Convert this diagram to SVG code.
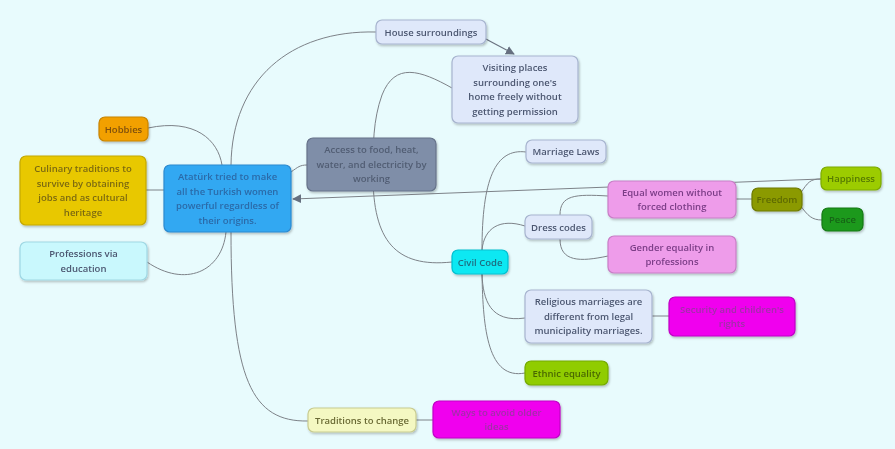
<svg xmlns="http://www.w3.org/2000/svg" width="895" height="449" viewBox="0 0 895 449">
<defs>
<style>
.bg{fill:#e8fbfd}
.c{fill:none;stroke:#7d8288;stroke-width:1}
.n rect{stroke-width:1.2}
text{font-family:"Open Sans","DejaVu Sans",sans-serif;font-weight:600;font-size:9.5px;text-anchor:middle}
.lb rect{fill:#dfe8fa;stroke:#a7b4cf}
.lb text{fill:#4b5670}
.pk rect{fill:#ee9cea;stroke:#c87ec6}
.pk text{fill:#7a3c86}
.mg rect{fill:#f000ee;stroke:#c000c6}
.mg text{fill:#a030a8}
</style>
<marker id="ah" viewBox="0 0 10 10" refX="9" refY="5" markerWidth="9" markerHeight="9" orient="auto" markerUnits="userSpaceOnUse">
<path d="M0,0 L10,5 L0,10 z" fill="#667080"/>
</marker>
<filter id="sh" x="-10%" y="-10%" width="120%" height="130%">
<feDropShadow dx="1" dy="1.5" stdDeviation="1" flood-color="#000" flood-opacity="0.25"/>
</filter>
</defs>
<rect class="bg" x="0" y="0" width="895" height="449"/>

<g id="connectors">
<path class="c" d="M376,32 C290,30 232,80 231,165"/>
<path class="c" d="M148,128 C195,118 218,140 222,165"/>
<path class="c" d="M146,190 L164,190"/>
<path class="c" d="M147,262 C185,288 222,272 226,232"/>
<path class="c" d="M231,232 C231,380 252,422 308,421"/>
<path class="c" d="M291,172 C298,167 300,165 307,165"/>
<path class="c" d="M452,88 C420,70 395,62 382,95 C373,120 373,145 373,175 C373,240 395,268 452,262"/>
<path class="c" d="M484,38 L514,54" marker-end="url(#ah)" style="stroke:#6a7280;stroke-width:1.3"/>
<path class="c" d="M821,179 L293,199" marker-end="url(#ah)"/>
<path class="c" d="M482,250 C482,180 495,148 526,152"/>
<path class="c" d="M482,250 C484,228 500,218 525,226"/>
<path class="c" d="M482,274 C483,300 490,323 525,318"/>
<path class="c" d="M482,274 C483,330 488,380 525,373"/>
<path class="c" d="M560,215 C560,195 575,194 608,196"/>
<path class="c" d="M560,239 C560,262 580,262 608,256"/>
<path class="c" d="M736,199 L752,199"/>
<path class="c" d="M800,194 C808,182 810,179 821,179"/>
<path class="c" d="M800,205 C808,216 812,220 822,220"/>
<path class="c" d="M652,316 L669,316"/>
<path class="c" d="M416,420 L433,420"/>
</g>

<g id="house" class="n lb" filter="url(#sh)"><rect x="376" y="20" width="110" height="24" rx="6"/><text x="431" y="35.5">House surroundings</text></g>
<g id="visiting" class="n lb" filter="url(#sh)"><rect x="452" y="56" width="126" height="67" rx="6"/>
<text x="515" y="71">Visiting places</text><text x="515" y="85.5">surrounding one's</text><text x="515" y="100">home freely without</text><text x="515" y="114.5">getting permission</text></g>

<g id="hobbies" class="n" filter="url(#sh)"><rect x="99" y="117" width="49" height="24" rx="6" fill="#f2a000" stroke="#c88400"/><text x="123.5" y="132.5" fill="#80500a">Hobbies</text></g>

<g id="access" class="n" filter="url(#sh)"><rect x="307" y="138" width="129" height="53" rx="6" fill="#7f8ea8" stroke="#66728a"/>
<text x="371.5" y="153" fill="#515d73">Access to food, heat,</text><text x="371.5" y="167.5" fill="#515d73">water, and electricity by</text><text x="371.5" y="182" fill="#515d73">working</text></g>

<g id="culinary" class="n" filter="url(#sh)"><rect x="20" y="156" width="126" height="69" rx="6" fill="#e8c800" stroke="#c4a800"/>
<text x="83" y="172" fill="#7c6a10">Culinary traditions to</text><text x="83" y="186.5" fill="#7c6a10">survive by obtaining</text><text x="83" y="201" fill="#7c6a10">jobs and as cultural</text><text x="83" y="215.5" fill="#7c6a10">heritage</text></g>

<g id="ataturk" class="n" filter="url(#sh)"><rect x="164" y="165" width="127" height="67" rx="6" fill="#33a8f2" stroke="#2a8ad0"/>
<text x="227.5" y="180" fill="#2b6aa8">Atatürk tried to make</text><text x="227.5" y="194.5" fill="#2b6aa8">all the Turkish women</text><text x="227.5" y="209" fill="#2b6aa8">powerful regardless of</text><text x="227.5" y="223.5" fill="#2b6aa8">their origins.</text></g>

<g id="professions" class="n" filter="url(#sh)"><rect x="20" y="242" width="127" height="38" rx="6" fill="#c9f8fd" stroke="#9fd8e4"/>
<text x="83.5" y="257" fill="#4b5670">Professions via</text><text x="83.5" y="271.5" fill="#4b5670">education</text></g>

<g id="marriage" class="n lb" filter="url(#sh)"><rect x="526" y="140" width="80" height="23" rx="6"/><text x="566" y="155">Marriage Laws</text></g>

<g id="equal" class="n pk" filter="url(#sh)"><rect x="608" y="181" width="128" height="37" rx="6"/>
<text x="672" y="196">Equal women without</text><text x="672" y="210">forced clothing</text></g>

<g id="freedom" class="n" filter="url(#sh)"><rect x="752" y="188" width="50" height="23" rx="6" fill="#8b9a00" stroke="#6e7a00"/><text x="777" y="203" fill="#5e6a00">Freedom</text></g>

<g id="happiness" class="n" filter="url(#sh)"><rect x="821" y="167" width="60" height="23" rx="6" fill="#9ccc00" stroke="#7caa00"/><text x="851" y="182" fill="#567a00">Happiness</text></g>

<g id="peace" class="n" filter="url(#sh)"><rect x="822" y="208" width="41" height="23" rx="6" fill="#1f991f" stroke="#157a15"/><text x="842.5" y="223" fill="#146414">Peace</text></g>

<g id="dress" class="n lb" filter="url(#sh)"><rect x="525" y="215" width="67" height="24" rx="6"/><text x="558.5" y="230.5">Dress codes</text></g>

<g id="gender" class="n pk" filter="url(#sh)"><rect x="608" y="236" width="128" height="37" rx="6"/>
<text x="672" y="251">Gender equality in</text><text x="672" y="265">professions</text></g>

<g id="civil" class="n" filter="url(#sh)"><rect x="452" y="250" width="56" height="24" rx="6" fill="#10e8f2" stroke="#00c0d0"/><text x="480" y="265.5" fill="#1e6c80">Civil Code</text></g>

<g id="religious" class="n lb" filter="url(#sh)"><rect x="525" y="290" width="127" height="53" rx="6"/>
<text x="588.5" y="305">Religious marriages are</text><text x="588.5" y="319.5">different from legal</text><text x="588.5" y="334">municipality marriages.</text></g>

<g id="security" class="n mg" filter="url(#sh)"><rect x="669" y="297" width="126" height="39" rx="6"/>
<text x="732" y="312.5">Security and children's</text><text x="732" y="326.5">rights</text></g>

<g id="ethnic" class="n" filter="url(#sh)"><rect x="525" y="361" width="83" height="24" rx="6" fill="#90cc00" stroke="#74aa00"/><text x="566.5" y="376.5" fill="#4a6800">Ethnic equality</text></g>

<g id="traditions" class="n" filter="url(#sh)"><rect x="308" y="408" width="108" height="24" rx="6" fill="#f4f8c2" stroke="#c8cc90"/><text x="362" y="423.5" fill="#6a6a34">Traditions to change</text></g>

<g id="ways" class="n mg" filter="url(#sh)"><rect x="433" y="401" width="127" height="37" rx="6"/>
<text x="496.5" y="416">Ways to avoid older</text><text x="496.5" y="430">ideas</text></g>
</svg>
